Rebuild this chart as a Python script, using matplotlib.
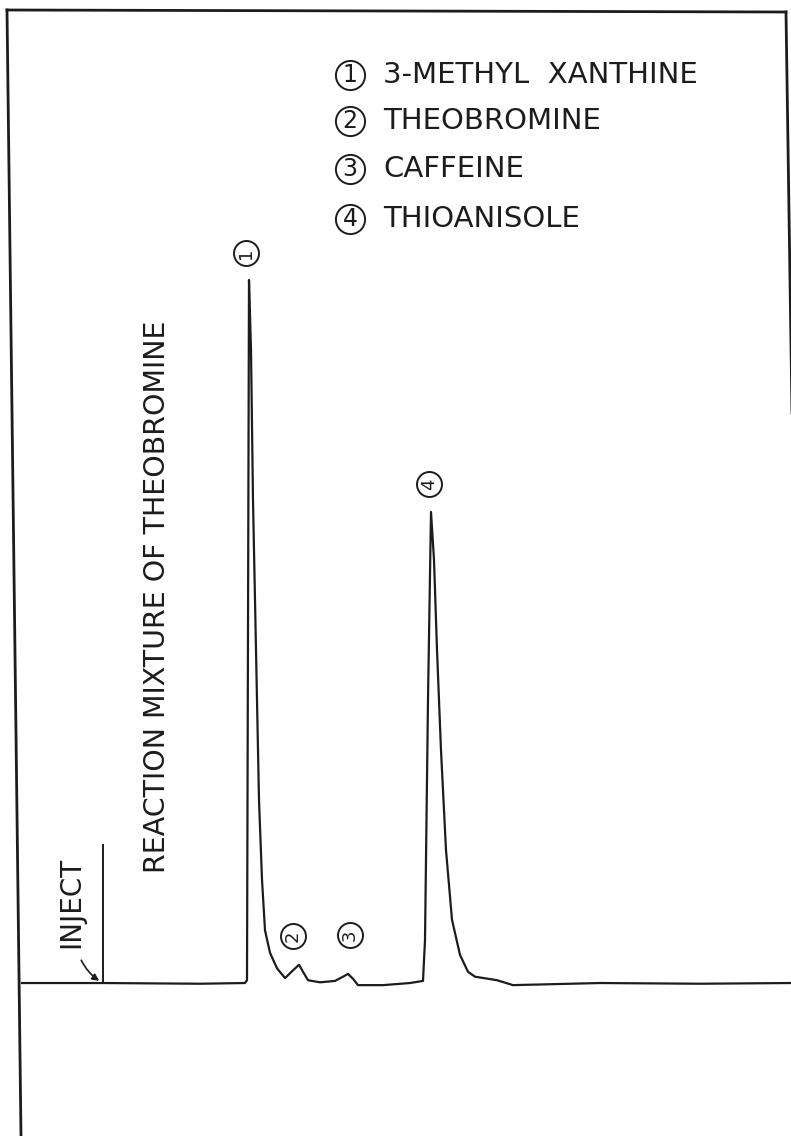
import matplotlib
matplotlib.use("Agg")
import matplotlib.pyplot as plt

# chromatogram trace (time in min after injection, detector signal, peak 1 = 100)
time = [-1.62, -0.16, 0.0, 1.94, 2.84, 2.88, 2.92, 2.96, 3.00, 3.06, 3.12, 3.18,
        3.24, 3.34, 3.48, 3.64, 3.80, 3.92, 4.00, 4.10, 4.34, 4.64, 4.80, 4.90,
        5.00, 5.10, 5.60, 6.14, 6.40, 6.44, 6.50, 6.56, 6.62, 6.68, 6.76, 6.86,
        6.98, 7.14, 7.30, 7.44, 7.88, 8.20, 9.94, 11.94, 13.76]
signal = [0.0, 0.0, 0.0, -0.1, 0.0, 0.4, 100.0, 90.0, 68.7, 47.4, 26.0, 14.7,
          7.5, 4.3, 2.1, 0.7, 1.8, 2.6, 1.6, 0.4, 0.1, 0.3, 0.9, 1.3,
          0.6, -0.3, -0.3, 0.0, 0.3, 6.1, 40.3, 67.0, 60.2, 47.4, 33.1, 18.9,
          9.0, 4.0, 1.6, 0.9, 0.4, -0.3, 0.0, -0.1, 0.0]

peak_ids = ["1", "2", "3", "4"]
peak_names = ["3-METHYL  XANTHINE", "THEOBROMINE", "CAFFEINE", "THIOANISOLE"]
label_t = [2.86, 3.80, 4.94, 6.52]
label_s = [103.8, 6.7, 6.8, 71.0]
inject_t = 0.0
inject_h = 19.6

INK = "#1c1c1c"
FONT = "DejaVu Sans"

fig = plt.figure(figsize=(7.91, 11.36), dpi=100)
ax = fig.add_axes([0, 0, 1, 1])
ax.set_xlim(-2.06, 13.76)
ax.set_ylim(-21.76, 139.83)
ax.axis("off")

# hand drawn frame (slightly skewed like the scan)
W, H = 791.0, 1136.0
frame = dict(color=INK, lw=2.0, transform=ax.transAxes, clip_on=False)
ax.plot([7 / W, 21 / W], [1 - 10 / H, 0.0], **frame)
ax.plot([7 / W, 786 / W], [1 - 10 / H, 1 - 12 / H], **frame)
ax.plot([786 / W, 793 / W], [1 - 12 / H, 1 - 480 / H], **frame)

# trace
ax.plot(time, signal, color=INK, lw=1.6, solid_joinstyle="round", clip_on=False)

# injection mark
ax.plot([inject_t, inject_t], [0, inject_h], color=INK, lw=1.4)
ax.text(-0.64, 11.5, "INJECT", rotation=90, ha="center", va="center",
        fontsize=20, color=INK, family=FONT)
ax.annotate("", xy=(-0.03, 0.1), xytext=(-0.46, 3.6),
            arrowprops=dict(arrowstyle="-|>", color=INK, lw=1.2,
                            connectionstyle="arc3,rad=0.15", mutation_scale=10))

# sample description
ax.text(1.08, 54.9, "REACTION MIXTURE OF THEOBROMINE", rotation=90,
        ha="center", va="center", fontsize=20.5, color=INK, family=FONT)

# circled peak numbers
for pid, t, s in zip(peak_ids, label_t, label_s):
    ax.plot(t, s, "o", ms=18, mfc="none", mec=INK, mew=1.4)
    ax.text(t, s, pid, rotation=90, ha="center", va="center",
            fontsize=13, color=INK, family=FONT)

# legend
leg_circle_t = 4.94
leg_text_t = 5.60
leg_rows = [129.2, 122.6, 115.8, 108.7]
for pid, name, s in zip(peak_ids, peak_names, leg_rows):
    ax.plot(leg_circle_t, s, "o", ms=21, mfc="none", mec=INK, mew=1.4)
    ax.text(leg_circle_t, s, pid, ha="center", va="center",
            fontsize=17, color=INK, family=FONT)
    ax.text(leg_text_t, s, name, ha="left", va="center",
            fontsize=21, color=INK, family=FONT)

fig.savefig("out.png", dpi=100, facecolor="white")
